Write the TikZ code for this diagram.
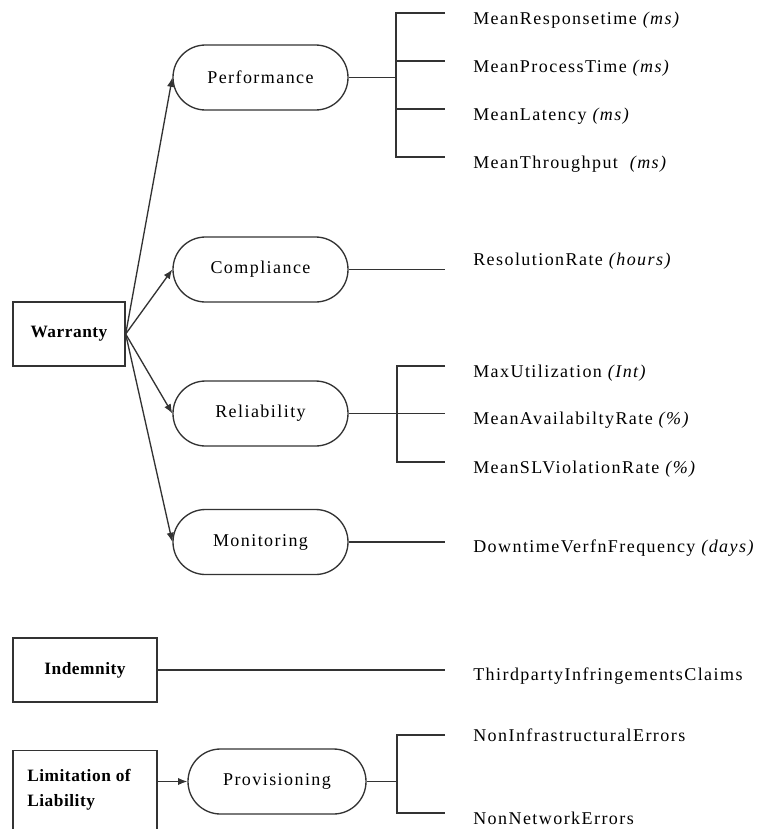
\documentclass[tikz,border=0pt]{standalone}
\usepackage{fontspec}
\setmainfont{Liberation Serif}[LetterSpace=8]
\usetikzlibrary{shapes.misc,arrows.meta}
\begin{document}
\begin{tikzpicture}[x=0.75pt,y=-0.75pt,
  ln/.style={draw=black!80, line width=1pt},
  arr/.style={ln,-{Latex[length=7pt,width=5.5pt]}},
  sqbox/.style={ln, rectangle, fill=white, minimum height=48pt, inner sep=0pt,
    font=\fontsize{13}{15}\selectfont\bfseries\addfontfeature{LetterSpace=3}},
  pill/.style={ln, rounded rectangle, fill=white, minimum width=131.25pt, minimum height=48.75pt, inner sep=0pt,
    font=\fontsize{13.5}{15}\selectfont},
  leaf/.style={anchor=base west, inner sep=0pt, font=\fontsize{13.5}{15}\selectfont},
]
\useasboundingbox (0,0) rectangle (761,829);
\clip (0,0) rectangle (761,829);

% main boxes
\node[sqbox, minimum width=84pt] (war) at (69,334) {Warranty};
\node[sqbox, minimum width=108pt] (ind) at (85,670) {Indemnity};
\node[sqbox, minimum width=108pt, minimum height=100pt, anchor=north] (lim) at (85,750) {};
\node[anchor=base west, inner sep=0pt, align=left,
  font=\fontsize{13}{18.75}\selectfont\bfseries\addfontfeature{LetterSpace=3}] (limtxt) at (27,806) {Limitation of\\Liability};

% pills
\node[pill] (perf) at (260.5,77.5) {Performance};
\node[pill] (comp) at (260.5,269.5) {Compliance};
\node[pill] (rel)  at (260.5,413.5) {Reliability};
\node[pill] (mon)  at (260.5,542) {Monitoring};
\node[pill, minimum width=133.5pt] (prov) at (277,781.5) {Provisioning};

% arrows
\draw[arr] (war.east) -- (perf.west);
\draw[arr] (war.east) -- (comp.west);
\draw[arr] (war.east) -- (rel.west);
\draw[arr] (war.east) -- (mon.west);
\draw[arr] (lim.east |- prov.west) -- (prov.west);

% leaves
\node[leaf] (l1) at (473,24)  {MeanResponsetime \textit{(ms)}};
\node[leaf] (l2) at (473,72)  {MeanProcessTime \textit{(ms)}};
\node[leaf] (l3) at (473,120) {MeanLatency \textit{(ms)}};
\node[leaf] (l4) at (473,168) {MeanThroughput\ \ \textit{(ms)}};
\node[leaf] (l5) at (473,265) {ResolutionRate \textit{(hours)}};
\node[leaf] (l6) at (473,377) {MaxUtilization \textit{(Int)}};
\node[leaf] (l7) at (473,424) {MeanAvailabiltyRate \textit{(\%)}};
\node[leaf] (l8) at (473,473) {MeanSLViolationRate \textit{(\%)}};
\node[leaf] (l9) at (473,552) {DowntimeVerfnFrequency \textit{(days)}};
\node[leaf] (l10) at (473,680) {ThirdpartyInfringementsClaims};
\node[leaf] (l11) at (473,741) {NonInfrastructuralErrors};
\node[leaf] (l12) at (473,824) {NonNetworkErrors};

% Performance bracket
\coordinate (pb1) at (396,13);  \coordinate (pe1) at (445,13);
\coordinate (pb2) at (396,61);  \coordinate (pe2) at (445,61);
\coordinate (pb3) at (396,109); \coordinate (pe3) at (445,109);
\coordinate (pb4) at (396,157); \coordinate (pe4) at (445,157);
\draw[ln] (pe1) -- (pb1) -- (pb4) -- (pe4);
\draw[ln] (pb2) -- (pe2);
\draw[ln] (pb3) -- (pe3);
\draw[ln] (perf.east) -- (perf.east -| pb1);

% Compliance
\coordinate (ce) at (445,270);
\draw[ln] (comp.east) -- (comp.east -| ce);

% Reliability bracket
\coordinate (rb1) at (397,366); \coordinate (re1) at (445,366);
\coordinate (rb2) at (397,413); \coordinate (re2) at (445,413);
\coordinate (rb3) at (397,462); \coordinate (re3) at (445,462);
\draw[ln] (re1) -- (rb1) -- (rb3) -- (re3);
\draw[ln] (rel.east) -- (rel.east -| re2);

% Monitoring
\coordinate (me) at (445,542);
\draw[ln] (mon.east) -- (mon.east -| me);

% Indemnity
\coordinate (ie) at (445,670);
\draw[ln] (ind.east) -- (ind.east -| ie);

% Provisioning bracket
\coordinate (vb1) at (397,735); \coordinate (ve1) at (445,735);
\coordinate (vb2) at (397,813); \coordinate (ve2) at (445,813);
\draw[ln] (ve1) -- (vb1) -- (vb2) -- (ve2);
\draw[ln] (prov.east) -- (prov.east -| vb1);
\end{tikzpicture}
\end{document}
